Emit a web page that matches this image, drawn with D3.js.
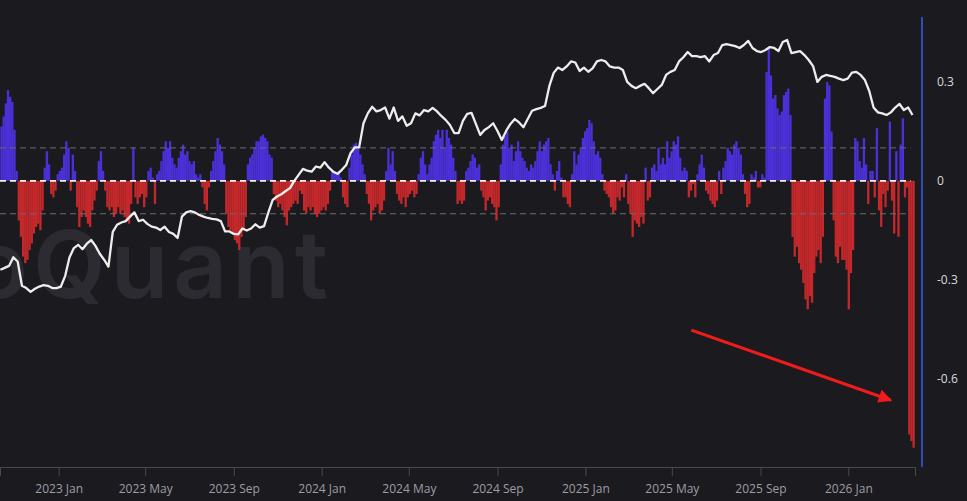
<!DOCTYPE html>
<html><head><meta charset="utf-8">
<script src="https://cdn.jsdelivr.net/npm/d3@7"></script>
<style>html,body{margin:0;padding:0;background:#1b1a1f;overflow:hidden}</style>
</head><body><svg id="c" width="967" height="501"></svg>
<script>
// ---- data ----
const barStart = "2022-10-12";
const barStepDays = 3;
const barValues = [
0.165,0.195,0.235,0.275,0.255,0.24,0.155,0.03,-0.12,-0.17,
-0.23,-0.25,-0.24,-0.21,-0.19,-0.16,-0.14,-0.13,-0.15,-0.09,
0.04,0.09,0.05,-0.04,-0.05,-0.03,0.02,0.03,0.04,0.08,
0.12,0.10,-0.03,0.08,0.03,-0.08,-0.14,-0.11,-0.09,-0.11,
-0.13,-0.14,-0.09,-0.06,-0.03,0.06,0.09,0.03,-0.03,-0.08,
-0.09,-0.08,-0.11,-0.10,-0.08,-0.10,-0.09,-0.11,-0.12,-0.13,
-0.07,0.10,-0.05,-0.07,-0.05,-0.04,-0.08,-0.05,0.03,0.04,
0.01,-0.07,
0.02,0.03,0.06,0.09,0.12,0.10,0.12,0.07,0.05,0.04,
0.07,0.09,0.11,0.08,0.09,0.06,0.05,0.06,0.02,0.01,
0.02,-0.02,-0.07,-0.09,-0.02,0.03,0.06,0.09,0.13,0.11,
0.09,0.05,-0.10,-0.14,-0.15,-0.16,-0.18,-0.19,-0.21,-0.17,
-0.15,-0.11,0.05,0.07,0.08,0.10,0.12,0.12,0.135,0.14,
0.13,0.12,0.08,0.07,-0.04,-0.06,-0.08,-0.07,-0.09,-0.11,
-0.135,-0.09,-0.08,-0.07,-0.06,-0.07,-0.03,-0.04,-0.09,-0.10,
-0.08,-0.09,-0.08,-0.10,-0.11,-0.10,-0.09,-0.08,-0.09,-0.07,
-0.03,0.03,0.03,0.02,0.03,0.01,-0.05,-0.07,-0.08,0.04,
0.08,0.11,0.115,0.10,0.08,0.05,0.02,-0.04,-0.07,-0.12,
-0.09,-0.08,-0.07,-0.10,-0.09,-0.06,0.03,0.10,0.05,0.09,
0.03,-0.04,-0.06,-0.07,-0.05,-0.08,-0.05,-0.04,-0.03,-0.05,
-0.04,0.02,0.07,0.09,0.05,0.02,0.05,0.07,0.12,0.14,
0.155,0.13,0.155,0.10,0.155,0.13,0.11,0.07,0.03,-0.07,
-0.06,-0.07,-0.06,0.03,0.04,0.06,0.08,0.07,0.04,0.05,
-0.03,-0.05,-0.09,-0.06,-0.05,-0.07,-0.08,-0.12,-0.08,0.05,
0.11,0.135,0.15,0.10,0.11,0.06,0.09,0.12,0.09,0.07,
0.06,0.04,0.03,0.05,0.04,0.06,0.09,0.12,0.09,0.11,
0.12,0.13,0.05,0.02,-0.03,0.03,0.06,0.01,-0.05,-0.05,
-0.07,-0.08,0.02,0.09,0.05,0.08,0.10,0.13,0.15,0.16,
0.185,0.175,0.12,0.08,0.09,0.07,0.02,-0.03,-0.04,-0.05,
-0.08,-0.10,
-0.09,-0.05,-0.06,-0.02,-0.05,0.02,-0.07,-0.10,-0.17,-0.12,
-0.13,-0.14,-0.11,-0.13,0.04,-0.06,-0.05,0.04,0.05,0.03,
0.10,0.05,0.07,0.05,0.12,0.07,0.09,0.12,0.11,0.135,
0.07,0.03,0.04,0.03,-0.05,-0.03,-0.01,-0.05,0.02,0.05,
0.08,0.04,-0.03,-0.04,-0.06,-0.07,-0.08,-0.06,0.03,-0.04,
0.04,0.06,0.10,0.09,0.08,0.11,0.12,0.10,0.08,0.02,
-0.04,-0.08,-0.07,0.02,0.01,0.03,-0.02,-0.02,0.02,0.01,
0.33,0.40,0.32,0.25,0.26,0.22,0.20,0.21,0.26,0.27,
0.28,0.20,-0.17,-0.23,-0.20,-0.25,-0.27,-0.31,-0.36,-0.39,
-0.35,-0.37,-0.28,-0.23,-0.21,-0.25,-0.17,0.25,0.30,0.29,
0.15,-0.12,-0.23,-0.25,-0.20,-0.24,-0.24,-0.27,-0.39,-0.28,
-0.21,0.13,0.12,0.06,0.04,0.13,0.05,-0.07,0.03,0.03,
-0.05,0.16,-0.09,-0.14,-0.04,-0.08,-0.03,0.18,-0.06,-0.16,
0.09,-0.17,0.11,0.19,-0.05,-0.02,-0.77,-0.79,-0.81
];
const priceStart = "2022-10-12";
const priceStepDays = 6;
// BTC price, thousand USD
const priceValues = [
20.0,20.3,20.6,22.0,21.3,17.7,17.4,16.9,17.3,17.6,
17.8,17.7,17.4,17.4,17.6,19.1,22.0,23.6,24.2,23.4,
24.4,25.1,24.0,22.6,21.6,20.5,26.7,28.2,28.7,29.0,
30.0,31.0,29.0,29.3,28.4,27.8,27.6,27.1,27.8,26.7,
26.3,25.5,30.0,31.0,31.3,31.0,30.4,30.0,29.7,29.5,
29.4,29.0,26.8,26.8,26.3,26.2,27.4,27.0,27.4,28.3,
27.6,27.9,31.0,34.1,35.0,35.6,36.5,37.3,39.4,41.3,
43.2,42.6,42.3,44.0,43.6,45.5,43.6,42.3,41.6,42.9,
44.5,48.7,50.9,50.9,61.2,66.0,69.4,67.0,67.7,69.0,
63.4,69.0,62.3,64.5,60.0,61.2,66.0,65.0,67.7,67.0,
68.8,67.0,64.7,62.8,60.4,56.8,56.8,62.3,65.7,66.2,
60.9,56.0,58.1,59.4,61.2,57.7,53.9,57.7,60.9,63.2,
61.6,59.4,63.2,67.3,68.2,68.8,69.8,81.4,89.9,93.6,
91.9,94.4,98.1,97.3,91.2,93.6,90.7,93.0,98.1,99.2,
98.1,94.4,93.6,93.6,91.9,83.9,81.4,80.0,81.4,82.7,
80.0,77.0,79.5,82.0,88.5,90.6,91.9,98.1,101.3,105.4,
102.1,102.1,101.3,102.1,98.1,103.0,104.6,111.2,111.9,111.2,
110.3,108.7,111.2,114.7,108.7,106.2,105.4,107.0,109.5,108.7,
106.2,113.8,115.6,104.6,105.4,106.2,103.0,99.2,94.7,83.9,
87.2,88.5,87.8,87.2,86.0,85.1,86.0,90.1,90.6,88.5,
85.1,78.3,69.0,66.5,66.0,65.2,66.5,69.0,70.9,67.7,
69.0,65.2
];
const xTicks = ["2023-01-01","2023-05-01","2023-09-01","2024-01-01","2024-05-01","2024-09-01",
                "2025-01-01","2025-05-01","2025-09-01","2026-01-01"];
const yTicks = [0.3, 0, -0.3, -0.6];
const guideLevels = [0.1, -0.1];
const arrowFrom = {date: "2025-05-28", value: -0.453};
const arrowTo = {date: "2026-03-01", value: -0.666};
const watermark = "CryptoQuant";

// ---- chart ----
const svg = d3.select("#c");
const parse = d3.utcParse("%Y-%m-%d");
const DAY = 86400000;
const x = d3.scaleUtc()
  .domain([new Date(Date.UTC(2022, 9, 11, 12)), new Date(Date.UTC(2026, 3, 3, 12))])
  .range([0, 915]);
const y = d3.scaleLinear().domain([-0.6, 0.3]).range([378.5, 82]);
const yP = d3.scaleLog().domain([16.5, 124.7]).range([295, 30]);

svg.append("rect").attr("width", 967).attr("height", 501).attr("fill", "#1b1a1f");

svg.append("text").attr("x", 333).attr("y", 298).attr("text-anchor", "end")
  .attr("font-family", "Inter, 'Noto Sans', sans-serif").attr("font-weight", 600)
  .attr("font-size", 94).attr("fill", "#2b2b31").attr("letter-spacing", 5)
  .text(watermark);

const bars = barValues.map((v, i) => ({d: new Date(parse(barStart).getTime() + i * barStepDays * DAY), v}));
const prices = priceValues.map((v, i) => ({d: new Date(parse(priceStart).getTime() + i * priceStepDays * DAY), v}));

svg.append("g").selectAll("rect").data(bars).join("rect")
  .attr("x", d => x(d.d))
  .attr("width", d => x(new Date(d.d.getTime() + barStepDays * DAY)) - x(d.d) + 0.15)
  .attr("y", d => Math.min(y(d.v), y(0)))
  .attr("height", d => Math.abs(y(d.v) - y(0)))
  .attr("fill", d => d.v >= 0 ? "#4b30d8" : "#c3282b");

const lastX = x(bars[bars.length - 1].d) - 2;
svg.append("g").selectAll("line").data(guideLevels).join("line")
  .attr("x1", 0).attr("x2", lastX).attr("y1", d => y(d)).attr("y2", d => y(d))
  .attr("stroke", "#6c6c72").attr("stroke-width", 1).attr("stroke-dasharray", "6,4");
svg.append("line").attr("x1", 0).attr("x2", lastX).attr("y1", y(0)).attr("y2", y(0))
  .attr("stroke", "#f2f2f2").attr("stroke-width", 1.6).attr("stroke-dasharray", "6,4");

svg.append("path").datum(prices)
  .attr("d", d3.line().x(d => x(d.d)).y(d => yP(d.v)))
  .attr("fill", "none").attr("stroke", "#ffffff").attr("stroke-width", 2.3)
  .attr("stroke-opacity", 0.92).attr("stroke-linejoin", "round");

// bottom axis
const gx = svg.append("g").attr("transform", "translate(0,467)")
  .call(d3.axisBottom(x).tickValues(xTicks.map(parse)).tickFormat(d3.utcFormat("%Y %b"))
        .tickSize(9).tickPadding(8));
gx.select(".domain").attr("stroke", "#48484e");
gx.selectAll(".tick line").attr("stroke", "#48484e");
gx.selectAll(".tick text").attr("fill", "#9d9da4").attr("font-size", 12)
  .attr("font-family", "'Open Sans', 'Noto Sans', sans-serif");

// right axis
svg.append("line").attr("x1", 922).attr("x2", 922).attr("y1", 17).attr("y2", 467)
  .attr("stroke", "#2e4db8").attr("stroke-width", 2);
const gy = svg.append("g").attr("transform", "translate(937,0)")
  .call(d3.axisRight(y).tickValues(yTicks).tickSize(0).tickPadding(0).tickFormat(d => String(d)));
gy.select(".domain").remove();
gy.selectAll(".tick text").attr("fill", "#dadade").attr("font-size", 12)
  .attr("font-family", "'Open Sans', 'Noto Sans', sans-serif");

// arrow annotation
const defs = svg.append("defs");
defs.append("marker").attr("id", "ah").attr("viewBox", "0 0 10 10").attr("refX", 9).attr("refY", 5)
  .attr("markerWidth", 6).attr("markerHeight", 4.5).attr("orient", "auto").attr("markerUnits", "strokeWidth")
  .append("path").attr("d", "M0,0 L10,5 L0,10 Z").attr("fill", "#f01b1b");
svg.append("line")
  .attr("x1", x(parse(arrowFrom.date))).attr("y1", y(arrowFrom.value))
  .attr("x2", x(parse(arrowTo.date))).attr("y2", y(arrowTo.value))
  .attr("stroke", "#f01b1b").attr("stroke-width", 3).attr("marker-end", "url(#ah)");
</script></body></html>
